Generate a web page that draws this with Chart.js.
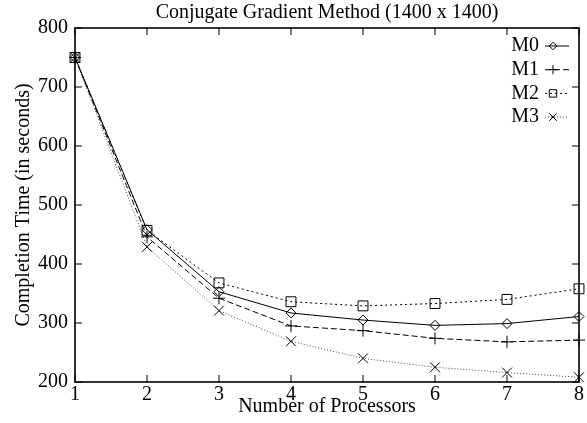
<!DOCTYPE html>
<html>
<head>
<meta charset="utf-8">
<script src="https://cdn.jsdelivr.net/npm/chart.js@4/dist/chart.umd.min.js"></script>
<style>
  html, body { margin: 0; padding: 0; background: #fff; }
  #wrap { width: 587px; height: 423px; }
</style>
</head>
<body>
<div id="wrap"><canvas id="chart"></canvas></div>
<script>
var processors = [1, 2, 3, 4, 5, 6, 7, 8];
var seriesNames = ["M0", "M1", "M2", "M3"];
var m0Times = [750, 458, 353, 317, 305, 296, 299, 311];
var m1Times = [750, 446, 342, 295, 287, 274, 268, 271];
var m2Times = [750, 457, 368, 336, 329, 333, 340, 358];
var m3Times = [750, 429, 321, 269, 240, 225, 216, 208];
var yTicks = [200, 300, 400, 500, 600, 700, 800];

var SERIF = "'Liberation Serif', 'Times New Roman', serif";

function toPoints(vals) {
    return vals.map(function(v, i) { return { x: processors[i], y: v }; });
}

var styles = [
    { color: "#000", dash: [], point: "rectRot", radius: 5 },
    { color: "#000", dash: [6, 3], point: "cross", radius: 6 },
    { color: "#000", dash: [2, 3], point: "rect", radius: 7 },
    { color: "#444", dash: [1, 2], point: "crossRot", radius: 7 }
];

var allTimes = [m0Times, m1Times, m2Times, m3Times];

var datasets = seriesNames.map(function(name, i) {
    var s = styles[i];
    return {
        label: name,
        data: toPoints(allTimes[i]),
        borderColor: s.color,
        borderWidth: 1,
        borderDash: s.dash,
        pointStyle: s.point,
        pointRadius: s.radius,
        pointBorderColor: "#000",
        pointBackgroundColor: "rgba(0,0,0,0)",
        pointBorderWidth: 1,
        tension: 0,
        fill: false,
        clip: false
    };
});

// frame, inward ticks and the gnuplot-style legend
var framePlugin = {
    id: "frame",
    afterDatasetsDraw: function(chart) {
        var ctx = chart.ctx;
        var a = chart.chartArea;
        var xs = chart.scales.x, ys = chart.scales.y;
        ctx.save();
        ctx.strokeStyle = "#000";
        ctx.setLineDash([]);
        ctx.lineWidth = 1;
        processors.forEach(function(p) {
            var px = xs.getPixelForValue(p);
            ctx.beginPath();
            ctx.moveTo(px, a.bottom); ctx.lineTo(px, a.bottom - 7);
            ctx.moveTo(px, a.top); ctx.lineTo(px, a.top + 7);
            ctx.stroke();
        });
        yTicks.forEach(function(v) {
            var py = ys.getPixelForValue(v);
            ctx.beginPath();
            ctx.moveTo(a.left, py); ctx.lineTo(a.left + 7, py);
            ctx.moveTo(a.right, py); ctx.lineTo(a.right - 7, py);
            ctx.stroke();
        });
        ctx.lineWidth = 1.6;
        ctx.strokeRect(a.left, a.top, a.right - a.left, a.bottom - a.top);

        // legend
        ctx.font = "20px " + SERIF;
        ctx.fillStyle = "#000";
        ctx.textAlign = "right";
        ctx.textBaseline = "middle";
        chart.data.datasets.forEach(function(ds, i) {
            var y = a.top + 18 + i * 23.7;
            var tx = a.right - 40;
            ctx.fillStyle = "#000";
            ctx.fillText(ds.label, tx, y);
            ctx.save();
            ctx.strokeStyle = ds.borderColor;
            ctx.lineWidth = 1;
            ctx.setLineDash(ds.borderDash);
            ctx.beginPath();
            ctx.moveTo(tx + 6, y); ctx.lineTo(tx + 30, y);
            ctx.stroke();
            ctx.setLineDash([]);
            ctx.strokeStyle = "#000";
            ctx.fillStyle = "rgba(0,0,0,0)";
            Chart.helpers.drawPoint(ctx, {
                pointStyle: ds.pointStyle,
                radius: ds.pointRadius * 0.75,
                borderWidth: 1,
                rotation: 0
            }, tx + 14, y);
            ctx.restore();
        });
        ctx.restore();
    }
};

var ctx = document.getElementById("chart").getContext("2d");
new Chart(ctx, {
    type: "line",
    data: { datasets: datasets },
    plugins: [framePlugin],
    options: {
        responsive: true,
        maintainAspectRatio: false,
        animation: false,
        layout: { padding: { top: 0, right: 7, bottom: 0, left: 0 } },
        plugins: {
            legend: { display: false },
            tooltip: { enabled: false },
            title: {
                display: true,
                text: "Conjugate Gradient Method (1400 x 1400)",
                fullSize: false,
                color: "#000",
                font: { family: SERIF, size: 20, weight: "normal" },
                padding: { top: 1, bottom: 3 }
            }
        },
        scales: {
            x: {
                type: "linear",
                min: 1,
                max: 8,
                afterFit: function(s) { s.height = 41; },
                grid: { display: false, drawTicks: false },
                border: { display: false },
                ticks: {
                    stepSize: 1,
                    padding: 1,
                    color: "#000",
                    font: { family: SERIF, size: 20 }
                },
                title: {
                    display: true,
                    text: "Number of Processors",
                    color: "#000",
                    font: { family: SERIF, size: 20 },
                    padding: { top: 0, bottom: 4 }
                }
            },
            y: {
                min: 200,
                max: 800,
                afterFit: function(s) { s.width = 75; },
                grid: { display: false, drawTicks: false },
                border: { display: false },
                ticks: {
                    stepSize: 100,
                    padding: 7,
                    color: "#000",
                    font: { family: SERIF, size: 20 }
                },
                title: {
                    display: true,
                    text: "Completion Time (in seconds)",
                    color: "#000",
                    font: { family: SERIF, size: 20 },
                    padding: { top: 12, bottom: 0 }
                }
            }
        }
    }
});
</script>
</body>
</html>
